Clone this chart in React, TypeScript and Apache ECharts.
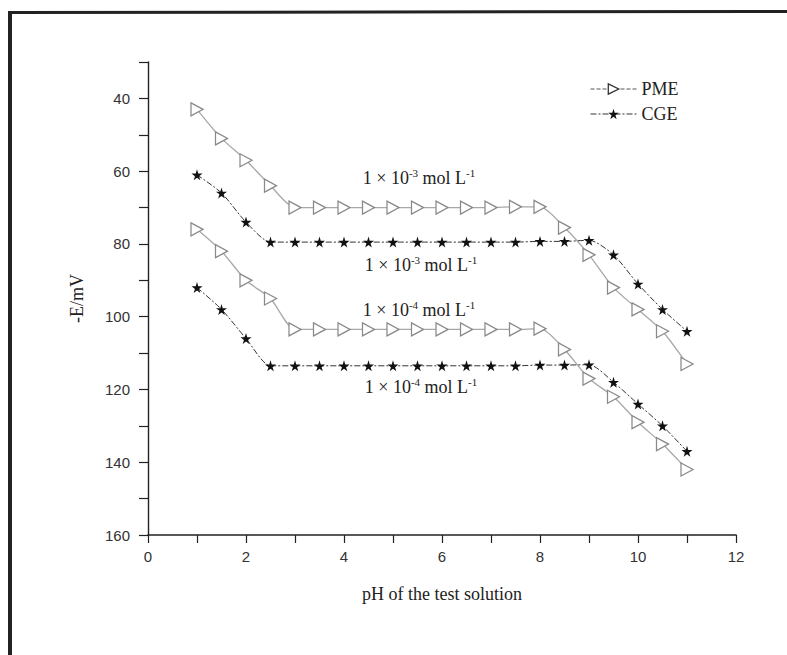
import React, { useEffect, useRef } from "react";
import * as echarts from "echarts";

const pH = [1, 1.5, 2, 2.5, 3, 3.5, 4, 4.5, 5, 5.5, 6, 6.5, 7, 7.5, 8, 8.5, 9, 9.5, 10, 10.5, 11];
const pmeHigh = [43, 51, 57, 64, 70, 70, 70, 70, 70, 70, 70, 70, 70, 69.8, 69.8, 75.5, 83, 92, 98, 104, 113];
const cgeHigh = [61, 66, 74, 79.5, 79.5, 79.5, 79.5, 79.5, 79.5, 79.5, 79.5, 79.5, 79.5, 79.5, 79.3, 79.3, 79, 83, 91, 98, 104];
const pmeLow = [76, 82, 90, 95, 103.5, 103.5, 103.5, 103.5, 103.5, 103.5, 103.5, 103.5, 103.5, 103.5, 103.3, 109, 117, 122, 129, 135, 142];
const cgeLow = [92, 98, 106, 113.5, 113.5, 113.5, 113.5, 113.5, 113.5, 113.5, 113.5, 113.5, 113.5, 113.5, 113.3, 113.3, 113.2, 118, 124, 130, 137];

const xTicks = [0, 2, 4, 6, 8, 10, 12];
const yTicks = [40, 60, 80, 100, 120, 140, 160];
const legendNames = ["PME", "CGE"];
const annotations = [
  { text: "1 × 10{s|-3} mol L{s|-1}", x: 419, y: 178 },
  { text: "1 × 10{s|-3} mol L{s|-1}", x: 421, y: 265 },
  { text: "1 × 10{s|-4} mol L{s|-1}", x: 419, y: 310 },
  { text: "1 × 10{s|-4} mol L{s|-1}", x: 421, y: 387 },
];

const TRI = "path://M0,0 L20,10 L0,20 Z";
const STAR = "path://M50,0 L61,35 L98,35 L68,57 L79,91 L50,70 L21,91 L32,57 L2,35 L39,35 Z";
const SERIF = "Liberation Serif, Times New Roman, serif";
const SANS = "Liberation Sans, Arial, sans-serif";

const zip = (ys: number[]) => pH.map((x, i) => [x, ys[i]]);

export default function App() {
  const ref = useRef<HTMLDivElement>(null);
  useEffect(() => {
    if (!ref.current) return;
    const chart = echarts.init(ref.current, undefined, { renderer: "svg" });
    const pmeSeries = (data: number[]) => ({
      name: "PME",
      type: "line",
      data: zip(data),
      smooth: 0.25,
      symbol: TRI,
      symbolSize: [12, 13],
      itemStyle: { color: "#fff", borderColor: "#8a8a8a", borderWidth: 1.3 },
      lineStyle: { color: "#a8a8a8", width: 1.3 },
      z: 3,
    });
    const cgeSeries = (data: number[]) => ({
      name: "CGE",
      type: "line",
      data: zip(data),
      smooth: 0.25,
      symbol: STAR,
      symbolSize: 11,
      itemStyle: { color: "#111", borderWidth: 0 },
      lineStyle: { color: "#333", width: 1, type: [6, 2, 2, 2] },
      z: 4,
    });
    chart.setOption({
      animation: false,
      backgroundColor: "#fff",
      grid: { left: 148, right: 51, top: 62, bottom: 120 },
      legend: {
        orient: "vertical",
        left: 585,
        top: 75,
        itemWidth: 46,
        itemHeight: 13,
        itemGap: 7,
        textStyle: { fontFamily: SERIF, fontSize: 18, color: "#222" },
        data: [
          { name: legendNames[0], lineStyle: { type: "dashed", color: "#555", width: 1 }, itemStyle: { color: "#fff", borderColor: "#333", borderWidth: 1.3 } },
          { name: legendNames[1], lineStyle: { type: [6, 2, 2, 2], color: "#333", width: 1 } },
        ],
      },
      xAxis: {
        type: "value",
        min: 0,
        max: 12,
        interval: 1,
        name: "pH of the test solution",
        nameLocation: "middle",
        nameGap: 50,
        nameTextStyle: { fontFamily: SERIF, fontSize: 18, color: "#222" },
        axisLine: { onZero: false, lineStyle: { color: "#222", width: 1.6 } },
        axisTick: { length: 8, lineStyle: { color: "#222", width: 1.2 } },
        axisLabel: {
          margin: 14,
          fontFamily: SANS,
          fontSize: 15,
          color: "#333",
          formatter: (v: number) => (xTicks.includes(v) ? String(v) : ""),
        },
        splitLine: { show: false },
      },
      yAxis: {
        type: "value",
        inverse: true,
        min: 30,
        max: 160,
        interval: 10,
        name: "-E/mV",
        nameLocation: "middle",
        nameGap: 62,
        nameRotate: 90,
        nameTextStyle: { fontFamily: SERIF, fontSize: 18, color: "#222" },
        axisLine: { onZero: false, lineStyle: { color: "#222", width: 1.4 } },
        axisTick: { length: 9, lineStyle: { color: "#222", width: 1.2 } },
        axisLabel: {
          margin: 18,
          fontFamily: SANS,
          fontSize: 15,
          color: "#333",
          formatter: (v: number) => (yTicks.includes(v) ? String(v) : ""),
        },
        splitLine: { show: false },
      },
      graphic: [
        { type: "line", shape: { x1: 8, y1: 12.5, x2: 787, y2: 11.5 }, style: { stroke: "#222", lineWidth: 3 } },
        { type: "line", shape: { x1: 10, y1: 11, x2: 10, y2: 655 }, style: { stroke: "#222", lineWidth: 4 } },
        ...annotations.map((a) => ({
          type: "text",
          x: a.x,
          y: a.y,
          style: {
            text: a.text,
            fontFamily: SERIF,
            fontSize: 18,
            lineHeight: 22,
            fill: "#222",
            align: "center",
            verticalAlign: "middle",
            rich: {
              s: { fontFamily: SERIF, fontSize: 11, lineHeight: 22, verticalAlign: "top", fill: "#222" },
            },
          },
        })),
      ],
      series: [pmeSeries(pmeHigh), cgeSeries(cgeHigh), pmeSeries(pmeLow), cgeSeries(cgeLow)],
    });
    return () => chart.dispose();
  }, []);
  return <div ref={ref} style={{ position: "fixed", left: 0, top: 0, width: 787, height: 655 }} />;
}
